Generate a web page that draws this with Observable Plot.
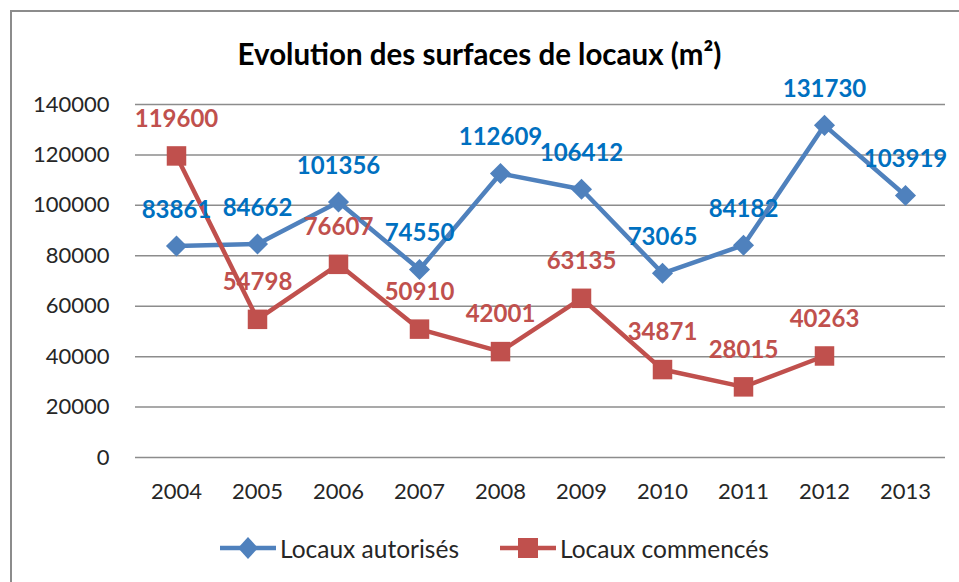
<!DOCTYPE html>
<html>
<head>
<meta charset="utf-8">
<script src="https://cdn.jsdelivr.net/npm/d3@7"></script>
<script src="https://cdn.jsdelivr.net/npm/@observablehq/plot@0.6"></script>
<style>
  body { margin: 0; background: #fff; width: 959px; height: 582px; overflow: hidden; position: relative; font-family: Lato, "Noto Sans", sans-serif; }
  #frame { position: absolute; left: 10px; top: 10px; width: 960px; height: 580px; border-top: 2px solid #8c8c8c; border-left: 2px solid #8c8c8c; }
  #title { position: absolute; left: 0; top: 37px; width: 959px; text-align: center; font-weight: bold; font-size: 29.5px; color: #000; line-height: 34px; }
  #chart { position: absolute; left: 0; top: 90px; }
  #legend { position: absolute; top: 533px; left: 0; width: 959px; height: 30px; font-size: 24.5px; color: #262626; }
  .item { position: absolute; top: 0; display: flex; align-items: center; height: 30px; }
  .item svg { margin-right: 4px; }
</style>
</head>
<body>
<div id="frame"></div>
<div id="title">Evolution des surfaces de locaux (m²)</div>
<div id="chart"></div>
<div id="legend"></div>
<script>
const years = [2004, 2005, 2006, 2007, 2008, 2009, 2010, 2011, 2012, 2013];
const autorises = [83861, 84662, 101356, 74550, 112609, 106412, 73065, 84182, 131730, 103919];
const commences = [119600, 54798, 76607, 50910, 42001, 63135, 34871, 28015, 40263];
const yTicks = [0, 20000, 40000, 60000, 80000, 100000, 120000, 140000];
const seriesNames = ["Locaux autorisés", "Locaux commencés"];
const lineColors = ["#4F81BD", "#C0504D"];
const labelColors = ["#0070C0", "#C0504D"];

const blue = autorises.map((v, i) => ({year: years[i], value: v}));
const red = commences.map((v, i) => ({year: years[i], value: v}));

const chart = Plot.plot({
  width: 959,
  height: 410,
  marginLeft: 135,
  marginRight: 14,
  marginTop: 14,
  marginBottom: 43,
  style: {fontFamily: "Lato, 'Noto Sans', sans-serif", fontSize: "22px", color: "#262626", background: "transparent", overflow: "visible"},
  x: {type: "point", domain: years, padding: 0.5},
  y: {domain: [0, 140000]},
  marks: [
    Plot.gridY(yTicks, {stroke: "#8c8c8c", strokeOpacity: 1, strokeWidth: 1.5}),
    Plot.axisY(yTicks, {tickSize: 0, tickPadding: 26, tickFormat: d => String(d), label: null, fontSize: 22}),
    Plot.axisX(years, {tickSize: 0, tickPadding: 26, tickFormat: d => String(d), label: null, fontSize: 22}),
    Plot.line(blue, {x: "year", y: "value", stroke: lineColors[0], strokeWidth: 4.5}),
    Plot.dot(blue, {x: "year", y: "value", symbol: "diamond2", r: 9.5, fill: lineColors[0], stroke: null}),
    Plot.line(red, {x: "year", y: "value", stroke: lineColors[1], strokeWidth: 4.5}),
    Plot.dot(red, {x: "year", y: "value", symbol: "square", r: 11, fill: lineColors[1], stroke: null}),
    Plot.text(blue, {x: "year", y: "value", text: d => String(d.value), dy: -36, fill: labelColors[0], fontWeight: "bold", fontSize: 24}),
    Plot.text(red, {x: "year", y: "value", text: d => String(d.value), dy: -37, fill: labelColors[1], fontWeight: "bold", fontSize: 24})
  ]
});
document.getElementById("chart").appendChild(chart);

// legend
const legend = document.getElementById("legend");
const lefts = [220, 500];
seriesNames.forEach((name, i) => {
  const item = document.createElement("div");
  item.className = "item";
  item.style.left = lefts[i] + "px";
  const sym = i === 0
    ? `<polygon points="28,4 38,15 28,26 18,15" fill="${lineColors[i]}"/>`
    : `<rect x="18" y="5" width="20" height="20" fill="${lineColors[i]}"/>`;
  item.innerHTML = `<svg width="56" height="30"><line x1="0" y1="15" x2="56" y2="15" stroke="${lineColors[i]}" stroke-width="4.5"/>${sym}</svg><span>${name}</span>`;
  legend.appendChild(item);
});
</script>
</body>
</html>
